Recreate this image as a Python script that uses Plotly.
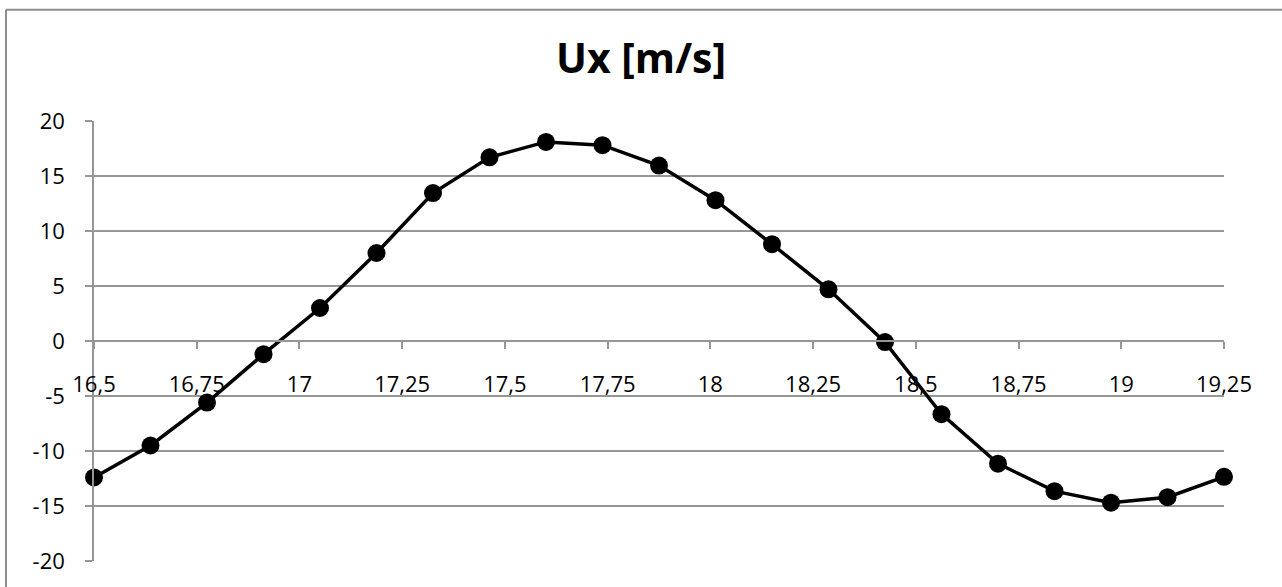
import plotly.graph_objects as go

# time axis and Ux values
t = [16.5, 16.6375, 16.775, 16.9125, 17.05, 17.1875, 17.325, 17.4625, 17.6, 17.7375, 17.875,
     18.0125, 18.15, 18.2875, 18.425, 18.5625, 18.7, 18.8375, 18.975, 19.1125, 19.25]
ux = [-12.4, -9.5, -5.6, -1.2, 3.0, 8.0, 13.45, 16.7, 18.1, 17.8, 15.95,
      12.8, 8.8, 4.7, -0.1, -6.65, -11.15, -13.65, -14.7, -14.2, -12.35]

# y ticks with a plain hyphen as minus sign, like the original
y_ticks = [-20, -15, -10, -5, 0, 5, 10, 15, 20]
y_labels = ['-20', '-15', '-10', '-5', '0', '5', '10', '15', '20']

title_txt = 'Ux [m/s]'
grid_color = 'rgb(150,150,150)'
font_plot = 'Open Sans'

fig = go.Figure(data=[go.Scatter(x=t, y=ux, mode='lines+markers',
                                 line=dict(color='black', width=3.5),
                                 marker=dict(color='black', size=18),
                                 cliponaxis=False, showlegend=False)])

fig.update_layout(autosize=False, width=1282, height=587,
                  margin=dict(l=94, r=58, t=121, b=23),
                  plot_bgcolor='white', paper_bgcolor='white',
                  font_family=font_plot, font_size=22, font_color='black',
                  separators=', ')
fig.update_layout(title=dict(text='<b>' + title_txt + '</b>', x=0.5, xanchor='center',
                             y=0.9, yanchor='middle',
                             font=dict(size=41, family=font_plot, color='black')))

# x axis sits on y = 0, like Excel's crossing axis
fig.update_xaxes(range=[16.5, 19.25], tick0=16.5, dtick=0.25, showgrid=False,
                 anchor='free', position=0.5, showline=True, linecolor=grid_color, linewidth=1.5,
                 ticks='outside', ticklen=7, tickwidth=1.5, tickcolor=grid_color,
                 ticklabelstandoff=17, zeroline=False)
fig.update_yaxes(range=[-20, 20], tickvals=y_ticks, ticktext=y_labels,
                 showgrid=True, gridcolor=grid_color, gridwidth=1.5,
                 showline=True, linecolor=grid_color, linewidth=1.5,
                 ticks='outside', ticklen=7, tickwidth=1.5, tickcolor=grid_color,
                 ticklabelstandoff=16, zeroline=False)

# chart frame (only left and top edges are inside the picture)
fig.add_shape(type='line', xref='paper', yref='paper', x0=-0.0779, x1=-0.0779, y0=-0.2, y1=1.2528,
              line=dict(color='rgb(140,140,140)', width=2))
fig.add_shape(type='line', xref='paper', yref='paper', x0=-0.0779, x1=1.2, y0=1.2528, y1=1.2528,
              line=dict(color='rgb(140,140,140)', width=2))

# drop the browser's default 8px body margin so the figure sits at the page corner
fig.write_html('out.html', config={'displayModeBar': False},
               post_script="document.body.style.margin='0';")
